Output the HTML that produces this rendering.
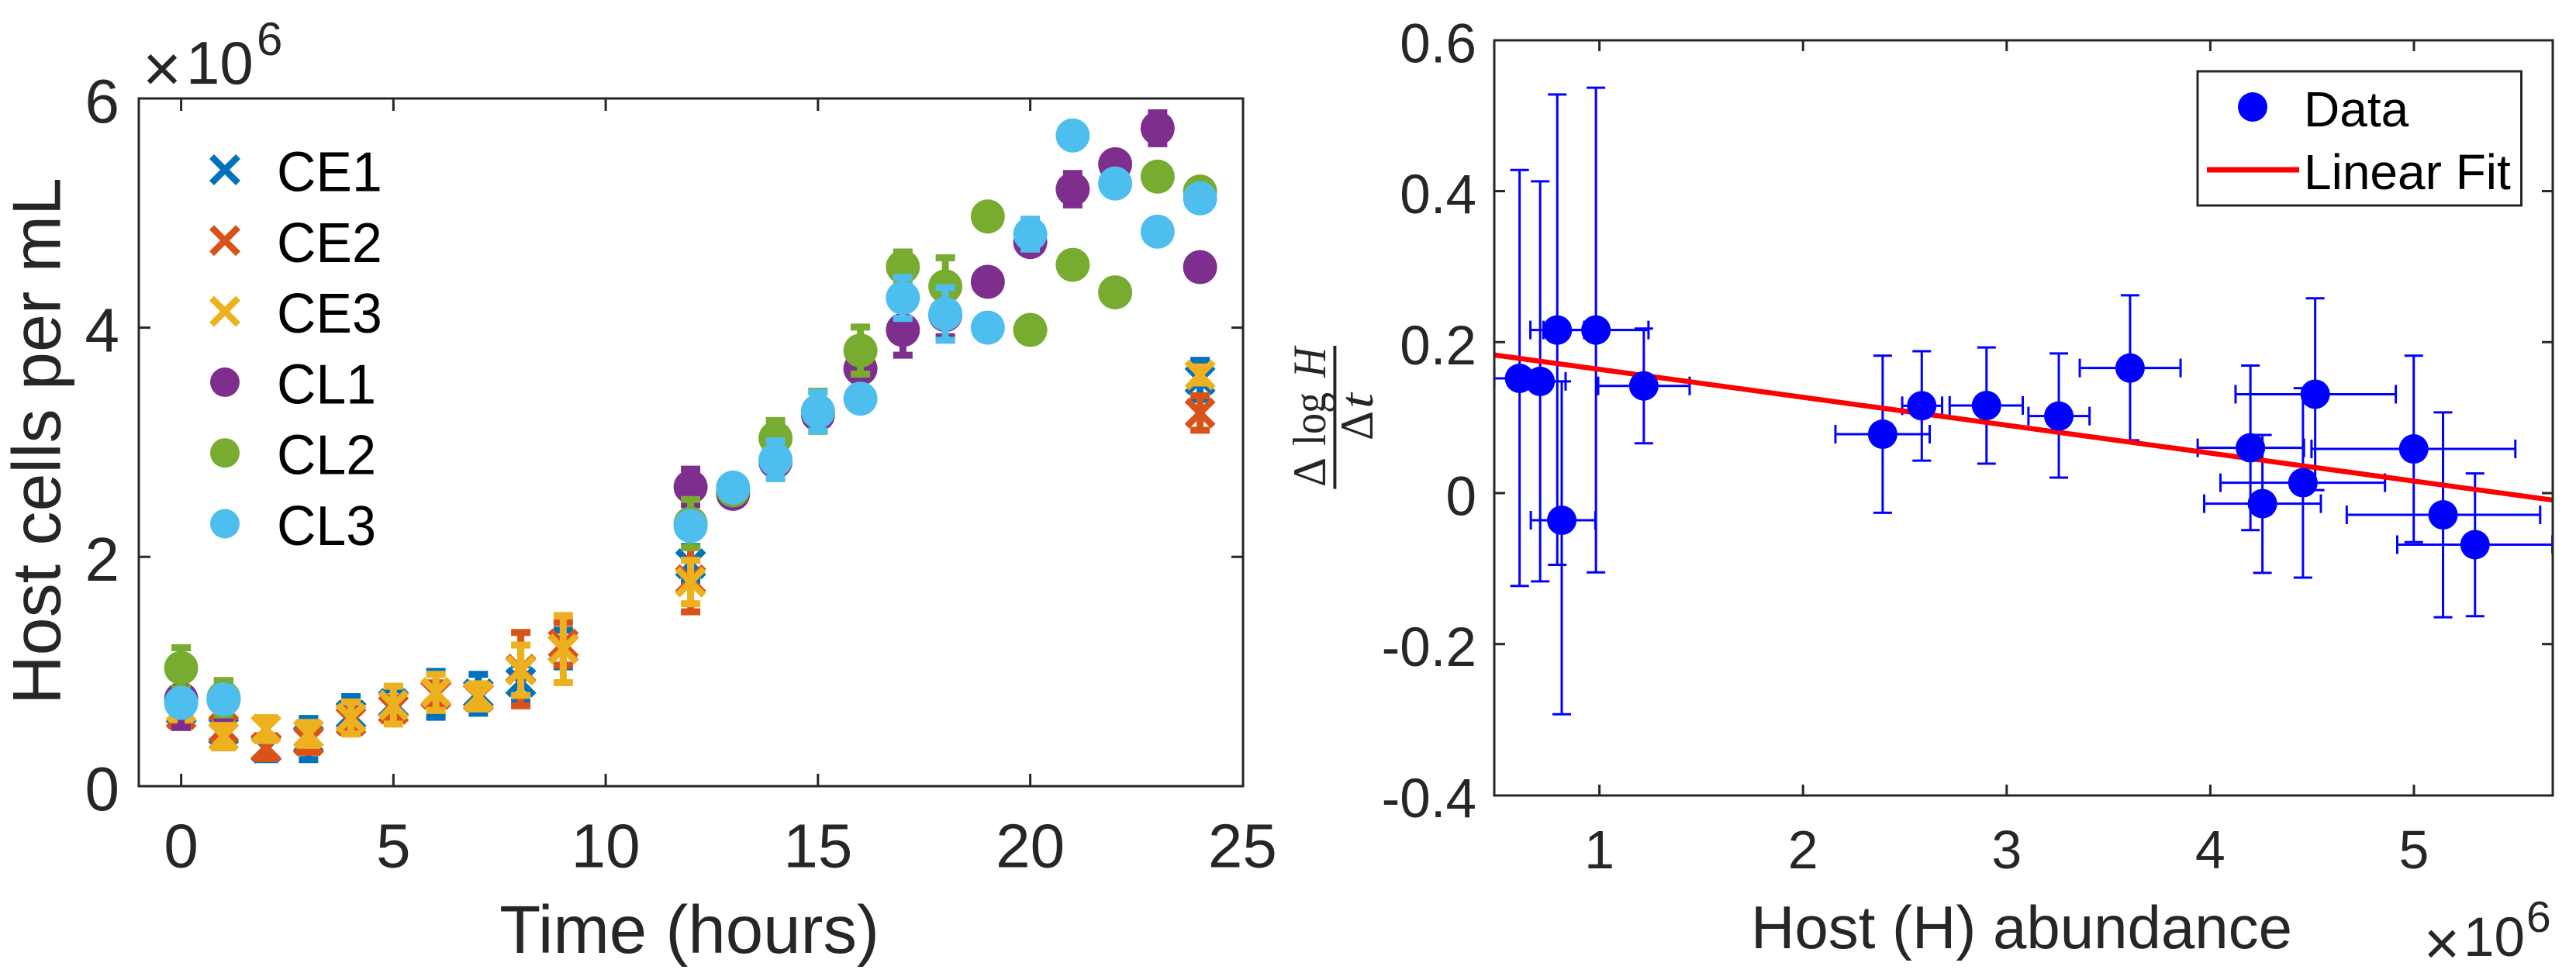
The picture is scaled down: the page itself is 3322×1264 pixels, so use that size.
<!DOCTYPE html>
<html lang="en">
<head>
<meta charset="utf-8">
<title>Host cell abundance charts</title>
<style>
html,body{margin:0;padding:0;background:#fff;}
svg{display:block;}
text{font-family:"Liberation Sans",Arial,sans-serif;fill:#262626;}
.serif{font-family:"Liberation Serif","Times New Roman",serif;}
.legend-text{fill:#000;}
</style>
</head>
<body>
<svg id="figure" xmlns="http://www.w3.org/2000/svg" width="3322" height="1264" viewBox="0 0 3322 1264">
  <rect x="0" y="0" width="3322" height="1264" fill="#fff"/>
  <defs>
    <clipPath id="right-clip"><rect x="1927" y="52" width="1365" height="974"/></clipPath>
  </defs>

  <g id="left-plot">
    <g id="left-ticks"></g>
    <g id="left-series"></g>
    <rect x="179" y="127" width="1424" height="887" fill="none" stroke="#262626" stroke-width="3"/>
    <text transform="translate(77.5,569) rotate(-90)" text-anchor="middle" font-size="88">Host cells per mL</text>
    <text x="889" y="1229" text-anchor="middle" font-size="87">Time (hours)</text>
    <g>
      <text x="209" y="118" text-anchor="middle" font-size="86">×</text>
      <text x="240" y="108" font-size="78">10</text>
      <text x="331" y="71" font-size="60">6</text>
    </g>
    <g id="left-legend"></g>
  </g>

  <g id="right-plot">
    <g id="right-ticks"></g>
    <g id="right-series" clip-path="url(#right-clip)"></g>
    <rect x="1927" y="52" width="1365" height="974" fill="none" stroke="#262626" stroke-width="3"/>
    <g>
      <text class="serif" transform="translate(1709,628) rotate(-90)" font-size="60" textLength="38" lengthAdjust="spacingAndGlyphs">Δ</text>
      <text class="serif" transform="translate(1709,575) rotate(-90)" font-size="60" textLength="69" lengthAdjust="spacingAndGlyphs">log</text>
      <text class="serif" font-style="italic" transform="translate(1709,487) rotate(-90)" font-size="60" textLength="39" lengthAdjust="spacingAndGlyphs">H</text>
      <line x1="1721.4" y1="446" x2="1721.4" y2="630.6" stroke="#262626" stroke-width="4"/>
      <text class="serif" transform="translate(1770,568) rotate(-90)" font-size="60" textLength="38" lengthAdjust="spacingAndGlyphs">Δ</text>
      <text class="serif" font-style="italic" transform="translate(1770,527) rotate(-90)" font-size="60" textLength="20" lengthAdjust="spacingAndGlyphs">t</text>
    </g>
    <text x="2258" y="1223" font-size="78">Host (H) abundance</text>
    <g>
      <text x="3149" y="1244" text-anchor="middle" font-size="80">×</text>
      <text x="3177" y="1233" font-size="71">10</text>
      <text x="3258" y="1202" font-size="57">6</text>
    </g>
    <g>
      <rect x="2834" y="92" width="417.5" height="173" fill="#fff" stroke="#262626" stroke-width="3"/>
      <circle cx="2905" cy="138" r="19" fill="#0000ff"/>
      <text class="legend-text" x="2971" y="163" font-size="64">Data</text>
      <line x1="2846" y1="219" x2="2965" y2="219" stroke="#ff0000" stroke-width="7"/>
      <text class="legend-text" x="2971" y="244" font-size="64">Linear Fit</text>
    </g>
  </g>
</svg>
<script>
// Left chart data
const ceHours = [0, 1, 2, 3, 4, 5, 6, 7, 8, 9, 12, 24];
const ce1Values = [0.66, 0.48, 0.33, 0.41, 0.62, 0.72, 0.80, 0.805, 0.908, 1.20, 1.94, 3.545];
const ce1Errors = [0.10, 0.10, 0.10, 0.18, 0.16, 0.12, 0.20, 0.17, 0.15, 0.16, 0.15, 0.17];
const ce2Values = [0.62, 0.50, 0.339, 0.394, 0.567, 0.67, 0.80, 0.775, 1.02, 1.24, 1.80, 3.255];
const ce2Errors = [0.08, 0.10, 0.10, 0.10, 0.10, 0.10, 0.10, 0.08, 0.32, 0.185, 0.28, 0.15];
const ce3Values = [0.68, 0.433, 0.497, 0.455, 0.594, 0.706, 0.817, 0.783, 1.01, 1.195, 1.78, 3.587];
const ce3Errors = [0.10, 0.10, 0.10, 0.10, 0.14, 0.165, 0.158, 0.11, 0.22, 0.293, 0.19, 0.07];
const clHours = [0, 1, 12, 13, 14, 15, 16, 17, 18, 19, 20, 21, 22, 23, 24];
const cl1Values = [0.76, 0.755, 2.61, 2.55, 2.83, 3.24, 3.642, 3.98, 4.11, 4.40, 4.747, 5.208, 5.426, 5.74, 4.528];
const cl1Errors = [0.25, 0.165, 0.155, 0.05, 0.10, 0.05, 0.05, 0.22, 0.19, 0.03, 0.05, 0.137, 0.05, 0.135, 0.03];
const cl2Values = [1.03, 0.77, 2.29, 2.58, 3.035, 3.27, 3.80, 4.53, 4.36, 4.97, 3.98, 4.548, 4.308, 5.318, 5.188];
const cl2Errors = [0.176, 0.15, 0.21, 0.05, 0.155, 0.175, 0.205, 0.13, 0.25, 0.03, 0.03, 0.03, 0.03, 0.03, 0.03];
const cl3Values = [0.725, 0.756, 2.27, 2.604, 2.847, 3.267, 3.38, 4.26, 4.12, 4.00, 4.816, 5.677, 5.258, 4.838, 5.128];
const cl3Errors = [0.05, 0.05, 0.05, 0.05, 0.165, 0.168, 0.05, 0.18, 0.23, 0.03, 0.13, 0.03, 0.03, 0.03, 0.03];
const leftXTicks = [0, 5, 10, 15, 20, 25];
const leftYTicks = [0, 2, 4, 6];
const leftLegendLabels = ['CE1', 'CE2', 'CE3', 'CL1', 'CL2', 'CL3'];

// Right chart data
const hostValues = [0.608, 0.709, 0.793, 0.983, 1.218, 2.391, 2.583, 2.901, 3.256, 3.606, 4.197, 4.256, 4.455, 4.515, 4.999, 5.143, 5.30, 0.815];
const hostLow = [0.484, 0.584, 0.661, 0.725, 0.994, 2.159, 2.487, 2.72, 3.107, 3.359, 3.938, 3.97, 4.05, 4.124, 4.497, 4.67, 4.918, 0.663];
const hostHigh = [0.732, 0.834, 0.925, 1.241, 1.443, 2.622, 2.683, 3.079, 3.407, 3.854, 4.46, 4.543, 4.858, 4.911, 5.498, 5.62, 5.68, 0.98];
const rateValues = [0.152, 0.148, 0.216, 0.216, 0.142, 0.078, 0.1157, 0.116, 0.102, 0.1657, 0.06, -0.014, 0.0138, 0.131, 0.0585, -0.0288, -0.0683, -0.036];
const rateLow = [-0.123, -0.117, -0.095, -0.105, 0.066, -0.026, 0.043, 0.039, 0.0205, 0.07, -0.049, -0.1057, -0.112, 0.004, -0.065, -0.1645, -0.163, -0.293];
const rateHigh = [0.428, 0.413, 0.528, 0.537, 0.218, 0.182, 0.188, 0.193, 0.185, 0.262, 0.169, 0.077, 0.139, 0.258, 0.182, 0.107, 0.026, 0.148];
const fitHost = [0.484, 5.68];
const fitRate = [0.183, -0.0092];
const rightXTicks = [1, 2, 3, 4, 5];
const rightYTicks = [-0.4, -0.2, 0, 0.2, 0.4, 0.6];
const rightYTickLabels = ['-0.4', '-0.2', '0', '0.2', '0.4', '0.6'];

const NS = 'http://www.w3.org/2000/svg';
function mk(parent, tag, attrs) {
  const el = document.createElementNS(NS, tag);
  for (const k in attrs) el.setAttribute(k, attrs[k]);
  parent.appendChild(el);
  return el;
}
function leftX(t) { return 233.6 + 54.75 * t; }
function leftY(v) { return 1013.8 - 147.8 * v; }
function rightX(h) { return 2062.6 + 262.6 * (h - 1); }
function rightY(r) { return 636 - 973.7 * r; }

function drawX(parent, cx, cy, half, width, color) {
  mk(parent, 'line', {x1: cx - half, y1: cy - half, x2: cx + half, y2: cy + half, stroke: color, 'stroke-width': width});
  mk(parent, 'line', {x1: cx - half, y1: cy + half, x2: cx + half, y2: cy - half, stroke: color, 'stroke-width': width});
}

// Left chart ticks
const leftTicks = document.getElementById('left-ticks');
leftXTicks.forEach(function (t) {
  const x = leftX(t);
  if (t !== 25) {
    const a = mk(leftTicks, 'line', {x1: x, y1: 127, x2: x, y2: 143, stroke: '#262626', 'stroke-width': 3});
    
    
    const b = mk(leftTicks, 'line', {x1: x, y1: 1014, x2: x, y2: 998, stroke: '#262626', 'stroke-width': 3});
    
    
  }
  const lab = mk(leftTicks, 'text', {x: x, y: 1118.5, 'text-anchor': 'middle', 'font-size': 80});
  lab.textContent = String(t);
  
  
});
leftYTicks.forEach(function (v) {
  const y = leftY(v);
  if (v !== 0 && v !== 6) {
    const a = mk(leftTicks, 'line', {x1: 179, y1: y, x2: 194, y2: y, stroke: '#262626', 'stroke-width': 3});
    
    
    const b = mk(leftTicks, 'line', {x1: 1603, y1: y, x2: 1588, y2: y, stroke: '#262626', 'stroke-width': 3});
    
    
  }
  const lab = mk(leftTicks, 'text', {x: 154, y: y + 31, 'text-anchor': 'end', 'font-size': 80});
  lab.textContent = String(v);
  
  
});

// Left chart series
const leftSeries = document.getElementById('left-series');
function drawSeries(name, hours, values, errors, color, kind) {
  const g = mk(leftSeries, 'g', {});
  
  
  hours.forEach(function (t, i) {
    const x = leftX(t);
    const y = leftY(values[i]);
    const top = leftY(values[i] + errors[i]);
    const bot = leftY(values[i] - errors[i]);
    const bar = mk(g, 'path', {
      d: 'M' + x + ' ' + top + 'V' + bot + 'M' + (x - 12.5) + ' ' + top + 'H' + (x + 12.5) + 'M' + (x - 12.5) + ' ' + bot + 'H' + (x + 12.5),
      fill: 'none', stroke: color, 'stroke-width': 9
    });
    
    
    if (kind === 'x') {
      const m = mk(g, 'g', {});
      
      
      drawX(m, x, y, 17, 8.5, color);
    } else {
      const c = mk(g, 'circle', {cx: x, cy: y, r: 22, fill: color});
      
      
    }
  });
}
drawSeries('ce1', ceHours, ce1Values, ce1Errors, '#0072BD', 'x');
drawSeries('ce2', ceHours, ce2Values, ce2Errors, '#D95319', 'x');
drawSeries('ce3', ceHours, ce3Values, ce3Errors, '#EDB120', 'x');
drawSeries('cl1', clHours, cl1Values, cl1Errors, '#7E2F8E', 'o');
drawSeries('cl2', clHours, cl2Values, cl2Errors, '#77AC30', 'o');
drawSeries('cl3', clHours, cl3Values, cl3Errors, '#4DBEEE', 'o');

// Left legend
const leftLegend = document.getElementById('left-legend');
const legendColors = ['#0072BD', '#D95319', '#EDB120', '#7E2F8E', '#77AC30', '#4DBEEE'];
leftLegendLabels.forEach(function (name, i) {
  const y = 219 + 91.3 * i;
  const entry = mk(leftLegend, 'g', {});
  
  
  if (i < 3) drawX(entry, 290, y, 17, 8.5, legendColors[i]);
  else mk(entry, 'circle', {cx: 290, cy: y, r: 19, fill: legendColors[i]});
  const lab = mk(entry, 'text', {'class': 'legend-text', transform: 'translate(357,' + (y + 27.5) + ') scale(0.97,1)', 'font-size': 72});
  lab.textContent = name;
});

// Right chart ticks
const rightTicks = document.getElementById('right-ticks');
rightXTicks.forEach(function (h) {
  const x = rightX(h);
  const a = mk(rightTicks, 'line', {x1: x, y1: 52, x2: x, y2: 66, stroke: '#262626', 'stroke-width': 3});
  
  
  const b = mk(rightTicks, 'line', {x1: x, y1: 1026, x2: x, y2: 1012, stroke: '#262626', 'stroke-width': 3});
  
  
  const lab = mk(rightTicks, 'text', {x: x, y: 1120, 'text-anchor': 'middle', 'font-size': 70});
  lab.textContent = String(h);
  
  
});
rightYTicks.forEach(function (r, i) {
  const y = rightY(r);
  if (i !== 0 && i !== rightYTicks.length - 1) {
    const a = mk(rightTicks, 'line', {x1: 1927, y1: y, x2: 1941, y2: y, stroke: '#262626', 'stroke-width': 3});
    
    
    const b = mk(rightTicks, 'line', {x1: 3292, y1: y, x2: 3278, y2: y, stroke: '#262626', 'stroke-width': 3});
    
    
  }
  const lab = mk(rightTicks, 'text', {x: 1904, y: y + 28.5, 'text-anchor': 'end', 'font-size': 71});
  lab.textContent = rightYTickLabels[i];
  
  
});

// Right chart series
const rightSeries = document.getElementById('right-series');
hostValues.forEach(function (h, i) {
  const x = rightX(h);
  const y = rightY(rateValues[i]);
  const xl = rightX(hostLow[i]);
  const xh = rightX(hostHigh[i]);
  const yl = rightY(rateLow[i]);
  const yh = rightY(rateHigh[i]);
  const d = 'M' + x + ' ' + yh + 'V' + yl +
    'M' + (x - 12) + ' ' + yh + 'H' + (x + 12) +
    'M' + (x - 12) + ' ' + yl + 'H' + (x + 12) +
    'M' + xl + ' ' + y + 'H' + xh +
    'M' + xl + ' ' + (y - 12) + 'V' + (y + 12) +
    'M' + xh + ' ' + (y - 12) + 'V' + (y + 12);
  const bars = mk(rightSeries, 'path', {d: d, fill: 'none', stroke: '#0000ff', 'stroke-width': 3});
  
  
});
const fitLine = mk(rightSeries, 'line', {
  x1: rightX(fitHost[0]), y1: rightY(fitRate[0]),
  x2: rightX(fitHost[1]), y2: rightY(fitRate[1]),
  stroke: '#ff0000', 'stroke-width': 6.5
});


hostValues.forEach(function (h, i) {
  const c = mk(rightSeries, 'circle', {cx: rightX(h), cy: rightY(rateValues[i]), r: 19, fill: '#0000ff'});
  
  
});
</script>
</body>
</html>
